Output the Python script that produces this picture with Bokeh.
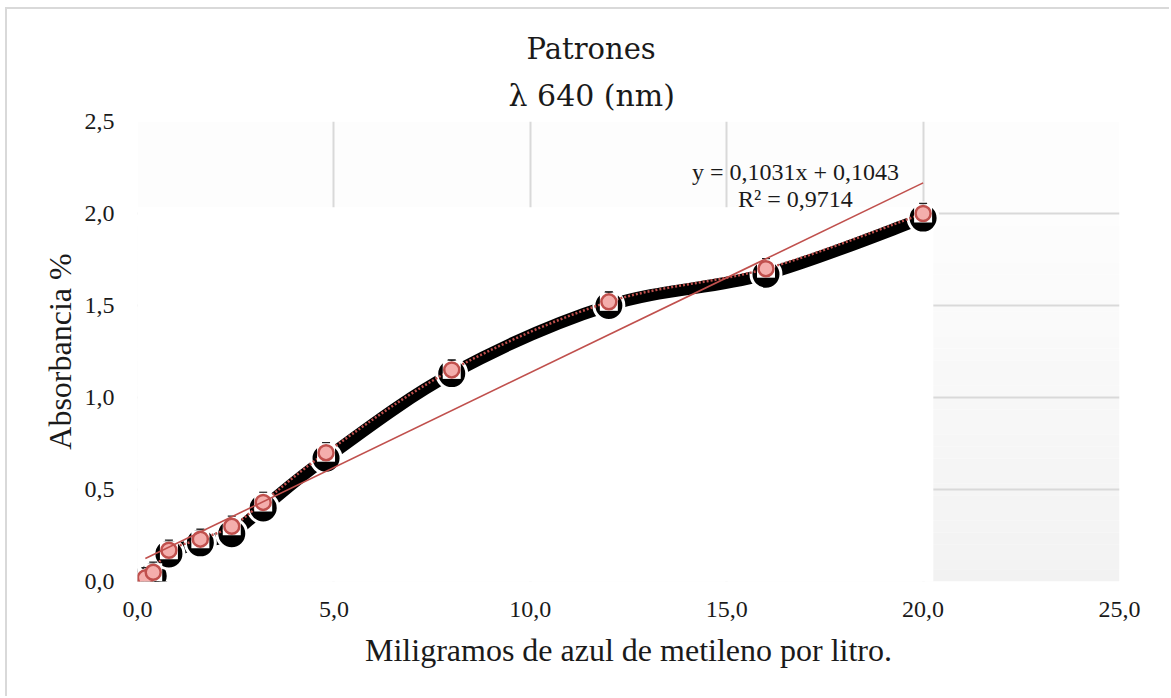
import numpy as np
from bokeh.plotting import figure
from bokeh.models import FixedTicker, Label, Title
from bokeh.embed import file_html
from bokeh.resources import INLINE

# ---- data ----
conc = [0.2, 0.4, 0.8, 1.6, 2.4, 3.2, 4.8, 8.0, 12.0, 16.0, 20.0]
abs_red = [0.02, 0.05, 0.17, 0.23, 0.30, 0.43, 0.70, 1.15, 1.52, 1.70, 2.00]
abs_black = [0.00, 0.03, 0.15, 0.21, 0.26, 0.40, 0.67, 1.13, 1.50, 1.67, 1.975]
err_red = [0.055, 0.055, 0.055, 0.055, 0.055, 0.055, 0.055, 0.055, 0.055, 0.055, 0.055]
slope = 0.1031
intercept = 0.1043
title_lines = ["Patrones", "λ 640 (nm)"]
eq_text = "y = 0,1031x + 0,1043"
r2_text = "R² = 0,9714"
x_ticks = [0, 5, 10, 15, 20, 25]
x_tick_labels = ["0,0", "5,0", "10,0", "15,0", "20,0", "25,0"]
y_ticks = [0, 0.5, 1.0, 1.5, 2.0, 2.5]
y_tick_labels = ["0,0", "0,5", "1,0", "1,5", "2,0", "2,5"]

FONT = "Liberation Serif"
TITLE_FONT = "DejaVu Serif"
RED = "#c0504d"
GRID = "#d9d9d9"
TXT = "#1a1a1a"


def smooth_segments(xs, ys, t=1.0 / 6.0):
    n = len(xs)
    pts = list(zip(xs, ys))
    d = dict(x0=[], y0=[], x1=[], y1=[], cx0=[], cy0=[], cx1=[], cy1=[])
    for i in range(n - 1):
        p0 = pts[i - 1] if i > 0 else pts[i]
        p1 = pts[i]
        p2 = pts[i + 1]
        p3 = pts[i + 2] if i + 2 < n else pts[i + 1]
        d["x0"].append(p1[0]); d["y0"].append(p1[1])
        d["x1"].append(p2[0]); d["y1"].append(p2[1])
        d["cx0"].append(p1[0] + (p2[0] - p0[0]) * t)
        d["cy0"].append(p1[1] + (p2[1] - p0[1]) * t)
        d["cx1"].append(p2[0] - (p3[0] - p1[0]) * t)
        d["cy1"].append(p2[1] - (p3[1] - p1[1]) * t)
    return d


W, H = 1164, 689
p = figure(width=W, height=H, x_range=(0, 25), y_range=(0, 2.5),
           output_backend="svg", toolbar_location=None,
           min_border_left=130, min_border_right=52,
           min_border_top=112, min_border_bottom=117)
p.styles = {"border-left": "2px solid #d9d9d9", "border-top": "2px solid #d9d9d9",
            "margin-left": "5px", "margin-top": "7px"}
p.background_fill_color = "white"
p.border_fill_color = "white"
p.outline_line_color = None
p.title.text = ""
p.title.text_font_size = "1px"

# title: two lines, centred on the whole chart (offset from the plot-area left edge)
t2 = Title(text=title_lines[1], align="left", offset=371, standoff=17,
           text_font=TITLE_FONT, text_font_size="30px", text_font_style="normal",
           text_color=TXT)
t1 = Title(text=title_lines[0], align="left", offset=389, standoff=3,
           text_font=TITLE_FONT, text_font_size="29px", text_font_style="normal",
           text_color=TXT)
p.add_layout(t2, "above")
p.add_layout(t1, "above")

# gradient plot-area background
nb = 30
edges = np.linspace(0, 2.0, nb + 1)
cols = []
for k in range(nb):
    f = (k + 0.5) / nb
    v = int(round(242 + (253 - 242) * f))
    cols.append("#%02x%02x%02x" % (v, v, v))
p.quad(left=0, right=25, bottom=edges[:-1], top=edges[1:], fill_color=cols,
       line_color=None, level="image")
p.quad(left=0, right=25, bottom=2.0, top=2.5, fill_color="#fdfdfd",
       line_color=None, level="image")

# grid
p.xgrid.ticker = FixedTicker(ticks=x_ticks)
p.ygrid.ticker = FixedTicker(ticks=y_ticks)
p.grid.grid_line_color = GRID
p.grid.grid_line_width = 2

# white block covering part of the plot area
p.quad(left=0, right=20.26, bottom=-0.2, top=2.034, fill_color="white", line_color=None)

# axes
for ax in (p.xaxis, p.yaxis):
    ax.axis_line_color = None
    ax.major_tick_line_color = None
    ax.minor_tick_line_color = None
    ax.major_label_text_font = FONT
    ax.major_label_text_font_size = "24px"
    ax.major_label_text_color = TXT
    ax.axis_label_text_font = FONT
    ax.axis_label_text_font_style = "normal"
    ax.axis_label_text_color = TXT
p.xaxis.ticker = FixedTicker(ticks=x_ticks)
p.yaxis.ticker = FixedTicker(ticks=y_ticks)
p.xaxis.major_label_overrides = dict(zip(x_ticks, x_tick_labels))
p.yaxis.major_label_overrides = dict(zip(y_ticks, y_tick_labels))
p.xaxis.major_label_standoff = 14
p.yaxis.major_label_standoff = 17
p.xaxis.axis_label = "Miligramos de azul de metileno por litro."
p.yaxis.axis_label = "Absorbancia %"
p.xaxis.axis_label_text_font_size = "32px"
p.yaxis.axis_label_text_font_size = "32px"
p.xaxis.axis_label_standoff = 12
p.yaxis.axis_label_standoff = 4

# black smoothed series
sb = smooth_segments(conc, abs_black)
p.bezier(x0="x0", y0="y0", x1="x1", y1="y1", cx0="cx0", cy0="cy0", cx1="cx1", cy1="cy1",
         source=sb, line_color="black", line_width=12)
p.scatter(conc, abs_black, size=30, fill_color="black", line_color="white", line_width=3)

# red dotted smoothed series
sr = smooth_segments(conc, abs_red)
p.bezier(x0="x0", y0="y0", x1="x1", y1="y1", cx0="cx0", cy0="cy0", cx1="cx1", cy1="cy1",
         source=sr, line_color=RED, line_width=2.5, line_dash="2 2")
p.scatter(conc, abs_red, marker="square", size=18, fill_color="white", line_color=None)
cap_y = [a + e for a, e in zip(abs_red, err_red)]
p.scatter(conc, cap_y, marker="dash", size=8, line_color="#222222", line_width=1.2)
p.scatter(conc, abs_red, size=15, fill_color="#f4aeac", line_color=RED, line_width=2.5)

# linear trend line
tx = [conc[0], conc[-1]]
ty = [slope * v + intercept for v in tx]
p.line(tx, ty, line_color=RED, line_width=1.6)

# equation label
p.add_layout(Label(x=16.75, y=2.223, text=eq_text, text_align="center", text_baseline="middle",
                   text_font=FONT, text_font_size="24px", text_color=TXT))
p.add_layout(Label(x=16.75, y=2.08, text=r2_text, text_align="center", text_baseline="middle",
                   text_font=FONT, text_font_size="24px", text_color=TXT))

open("out.html", "w").write(file_html(p, INLINE))
